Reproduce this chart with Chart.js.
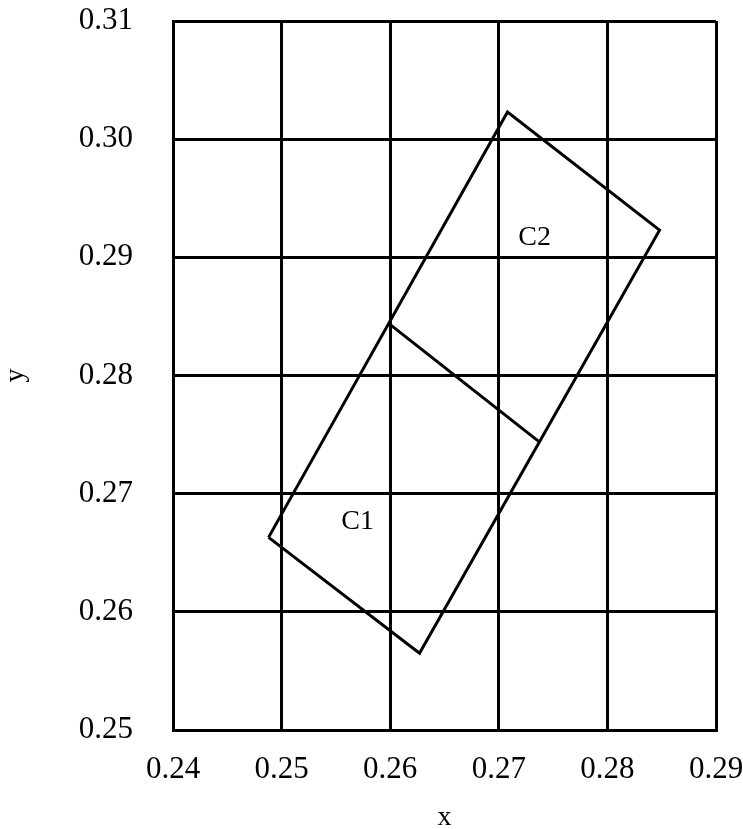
<!DOCTYPE html>
<html>
<head>
<meta charset="utf-8">
<script src="https://cdn.jsdelivr.net/npm/chart.js@4.4.1/dist/chart.umd.min.js"></script>
<style>
  body { margin: 0; background: #fff; }
  canvas { display: block; }
</style>
</head>
<body>
<canvas id="zone-canvas" width="743" height="829"></canvas>
<script>
// outline of the two cells (closed polygon)
const outlineX = [0.2488, 0.2708, 0.2848, 0.2627, 0.2488];
const outlineY = [0.2663, 0.3023, 0.2923, 0.2565, 0.2663];
// line splitting C1 from C2
const dividerX = [0.2600, 0.2737];
const dividerY = [0.2843, 0.2744];
// region names
const regionNames = ["C1", "C2"];
const regionX = [0.2570, 0.2733];
const regionY = [0.2676, 0.2917];
// axis ticks
const xTicks = [0.24, 0.25, 0.26, 0.27, 0.28, 0.29];
const yTicks = [0.25, 0.26, 0.27, 0.28, 0.29, 0.30, 0.31];

const serif = "'Liberation Serif', 'Times New Roman', serif";

function toPoints(xs, ys) {
  return xs.map((x, i) => ({ x: x, y: ys[i] }));
}

const regionLabelPlugin = {
  id: "regionLabels",
  afterDatasetsDraw(chart) {
    const ctx = chart.ctx;
    const xs = chart.scales.x;
    const ys = chart.scales.y;
    ctx.save();
    ctx.fillStyle = "#000";
    ctx.font = "28px " + serif;
    ctx.textAlign = "center";
    ctx.textBaseline = "middle";
    regionNames.forEach((name, i) => {
      ctx.fillText(name, xs.getPixelForValue(regionX[i]), ys.getPixelForValue(regionY[i]));
    });
    ctx.restore();
  }
};

const lineStyle = {
  showLine: true,
  borderColor: "#000",
  borderWidth: 3,
  pointRadius: 0,
  fill: false,
  tension: 0
};

const cvs = document.getElementById("zone-canvas");
const ctx = cvs.getContext("2d");

const chartObj = new Chart(ctx, {
  type: "scatter",
  data: {
    datasets: [
      Object.assign({ label: "outline", data: toPoints(outlineX, outlineY) }, lineStyle),
      Object.assign({ label: "divider", data: toPoints(dividerX, dividerY) }, lineStyle)
    ]
  },
  options: {
    responsive: false,
    animation: false,
    devicePixelRatio: 1,
    layout: { padding: { top: 21, right: 27, left: 0, bottom: 0 } },
    plugins: {
      legend: { display: false },
      tooltip: { enabled: false }
    },
    scales: {
      x: {
        type: "linear",
        min: xTicks[0],
        max: xTicks[xTicks.length - 1],
        afterBuildTicks: axis => { axis.ticks = xTicks.map(v => ({ value: v })); },
        afterFit: axis => {
          axis.height = 99;
          axis.paddingLeft = 0;
          axis.paddingRight = 0;
        },
        grid: { color: "#000", lineWidth: 3, drawTicks: false },
        border: { color: "#000", width: 3 },
        ticks: {
          padding: 21,
          color: "#000",
          font: { family: serif, size: 31 },
          callback: v => v.toFixed(2)
        },
        title: {
          display: true,
          text: "x",
          color: "#000",
          font: { family: serif, size: 28, lineHeight: 1 },
          padding: { top: 0, bottom: -3 }
        }
      },
      y: {
        type: "linear",
        min: yTicks[0],
        max: yTicks[yTicks.length - 1],
        afterBuildTicks: axis => { axis.ticks = yTicks.map(v => ({ value: v })); },
        afterFit: axis => {
          axis.width = 173;
          axis.paddingTop = 0;
          axis.paddingBottom = 0;
        },
        grid: { color: "#000", lineWidth: 3, drawTicks: false },
        border: { color: "#000", width: 3 },
        ticks: {
          padding: 40,
          color: "#000",
          font: { family: serif, size: 31 },
          callback: v => v.toFixed(2)
        },
        title: {
          display: true,
          text: "y",
          color: "#000",
          font: { family: serif, size: 28, lineHeight: 1 },
          padding: { top: 2, bottom: 0 }
        }
      }
    }
  },
  plugins: [regionLabelPlugin]
});
</script>
</body>
</html>
